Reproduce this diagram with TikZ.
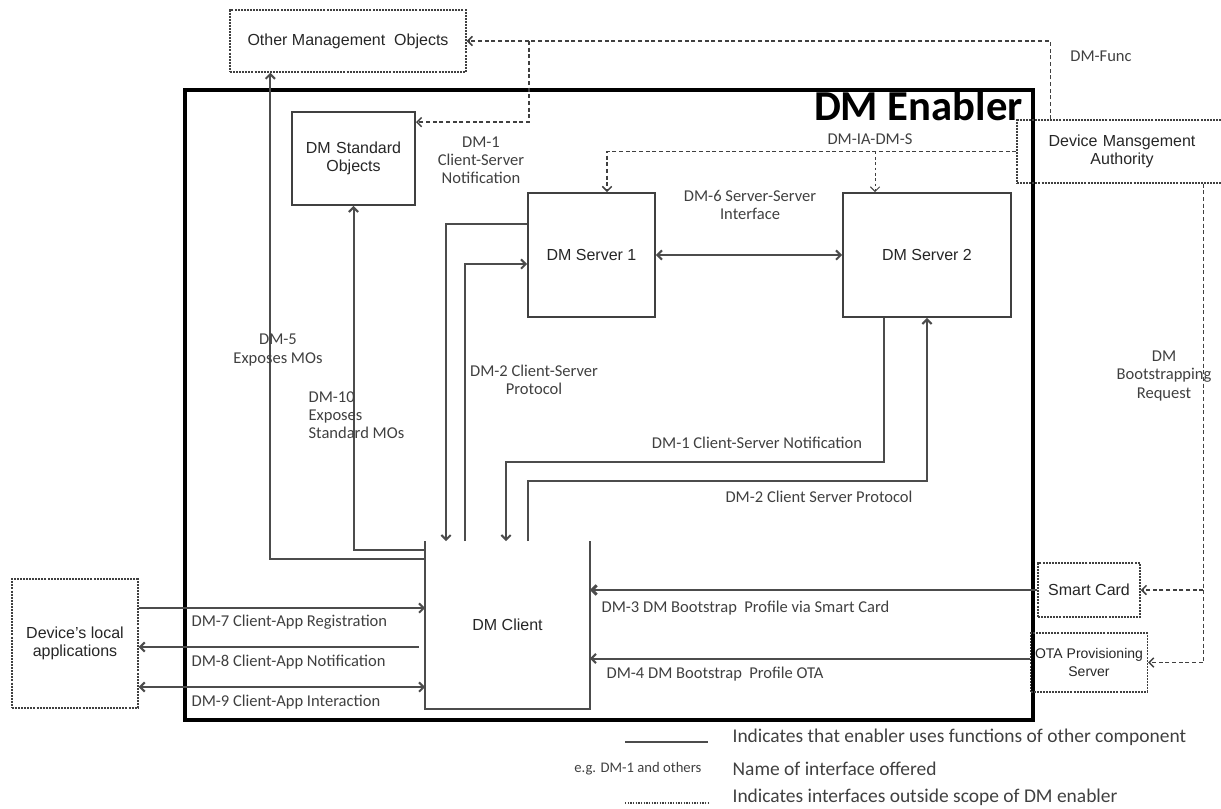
\documentclass[tikz,border=0pt]{standalone}
\usepackage{fontspec}
\setmainfont{Liberation Sans}
\newfontfamily\labfont{Carlito}
\usetikzlibrary{positioning,calc,arrows.meta}

\begin{document}
\begin{tikzpicture}[x=0.75pt,y=-0.75pt,>={Straight Barb[length=3.5pt,width=7pt]},
  box/.style={draw=black!75,line width=1.4pt,rectangle,align=center,text=black!85,font=\fontsize{12}{14}\selectfont},
  extbox/.style={box,line width=1.1pt,densely dashed,dash pattern=on 1.5pt off 0.8pt},
  lbl/.style={font=\labfont\fontsize{12.4}{13.6}\selectfont,text=black!75,align=center,inner sep=1pt},
  conn/.style={draw=black!70,line width=1.5pt},
  ext/.style={draw=black!75,line width=1.1pt,dashed,dash pattern=on 3pt off 2pt}]
\useasboundingbox (0,0) rectangle (1221,808);

% enabler frame
\node[draw,line width=3pt,minimum width=848*0.75pt,minimum height=630*0.75pt] (enabler) at (609,405) {};
\node[anchor=base east,font=\labfont\bfseries\fontsize{32}{34}\selectfont,inner sep=0pt] (title) at (1023,120) {DM Enabler};

% components
\node[extbox,minimum width=236*0.75pt,minimum height=62*0.75pt] (omo) at (348,41) {Other Management\ \ Objects};
\node[box,minimum width=123*0.75pt,minimum height=93*0.75pt,text width=80pt] (dmso) at (353.5,158.5) {DM Standard\\ Objects};
\node[box,minimum width=127*0.75pt,minimum height=124*0.75pt] (dms1) at (591.5,255) {DM Server 1};
\node[box,minimum width=168*0.75pt,minimum height=124*0.75pt] (dms2) at (927,255) {DM Server 2};
\node[extbox,minimum width=210*0.75pt,minimum height=63*0.75pt,text width=150pt] (dma) at (1122,151.5) {Device Mansgement\\ Authority};
\node[extbox,minimum width=102*0.75pt,minimum height=54*0.75pt] (smart) at (1089,590) {Smart Card};
\node[extbox,minimum width=102*0.75pt,minimum height=59*0.75pt,font=\fontsize{10.5}{13}\selectfont] (ota) at (1089,662.5) {OTA Provisioning\\ Server};
\node[extbox,minimum width=126*0.75pt,minimum height=129*0.75pt] (apps) at (75,643.5) {Device's local\\ applications};
\node[box,draw=none,minimum width=163*0.75pt,minimum height=166*0.75pt] (client) at (507.5,625) {DM Client};
\draw[conn,line width=1.4pt] (client.north west) -- (client.south west) -- (client.south east) -- (client.north east);

% outside scope
\draw[ext,->] ($(dma.north west)+(34,0)$) |- (omo.east);
\coordinate (fj) at (529,41);
\draw[ext,->] (fj) |- ($(dmso.north east)+(0,11)$);
\node[lbl] (lfunc) at (1101,56) {DM-Func};
\draw[ext,->] (dma.west) -| ($(dms1.north)+(15.5,0)$);
\coordinate (ij) at (875,151.5);
\draw[ext,->,dash pattern=on 2pt off 2pt,line width=0.7pt] (ij) -- ($(dms2.north)+(-52,0)$);
\node[lbl] (lia) at (870,139) {DM-IA-DM-S};
\draw[ext,->] ($(dma.south east)+(-24,0)$) |- (smart.east);
\draw[ext,->] ($(dma.south east)+(-24,0)$) |- (ota.east);
\node[lbl] (lboot) at (1164,376) {DM\\ Bootstrapping\\ Request};

% client - server
\draw[conn,->] ($(dms1.north west)+(0,32)$) -| ($(client.north west)+(21,0)$);
\node[lbl] (l1) at (481,160) {DM-1\\ Client-Server\\ Notification};
\draw[conn,->] ($(client.north west)+(40,0)$) |- ($(dms1.west)+(0,9)$);
\node[lbl] (l2) at (534,380) {DM-2 Client-Server\\ Protocol};
\draw[conn,<->] (dms1.east) -- (dms2.west);
\node[lbl] (l6) at (750,205) {DM-6 Server-Server\\ Interface};
\draw[conn,->] ($(dms2.south west)+(42,0)$) -- ++(0,144) -| ($(client.north west)+(81,0)$);
\node[lbl] (l1b) at (757,443) {DM-1 Client-Server Notification};
\draw[conn,->] ($(client.north west)+(103,0)$) -- ++(0,-60) -| (dms2.south);
\node[lbl] (l2b) at (819,497) {DM-2 Client Server Protocol};

% exposed objects
\draw[conn,->] ($(client.north west)+(0,18)$) -| ($(omo.south west)+(41,0)$);
\node[lbl] (l5) at (278,350) {DM-5\\ Exposes MOs};
\draw[conn,->] ($(client.north west)+(0,9)$) -| (dmso.south);
\node[lbl,anchor=west,align=left] (l10) at (307,415) {DM-10\\ Exposes\\ Standard MOs};

% local applications
\coordinate (r7) at ($(apps.east)+(0,-35.5)$);
\coordinate (r8) at ($(apps.east)+(0,3.5)$);
\coordinate (r9) at ($(apps.east)+(0,43.5)$);
\draw[conn,->] (r7) -- (r7 -| client.west);
\draw[conn,<-] (r8) -- ($(r8 -| client.west)+(-6,0)$);
\draw[conn,<->] (r9) -- (r9 -| client.west);
\node[lbl,anchor=west] (l7) at (190,622) {DM-7 Client-App Registration};
\node[lbl,anchor=west] (l8) at (190,662) {DM-8 Client-App Notification};
\node[lbl,anchor=west] (l9) at (190,702) {DM-9 Client-App Interaction};

% bootstrap
\draw[conn,->,line width=2.2pt] (smart.west) -- (smart.west -| client.east);
\node[lbl,anchor=west] (l3) at (600,608) {DM-3 DM Bootstrap\ \ Profile via Smart Card};
\draw[conn,->] ($(ota.west)+(0,-4)$) -- ($(ota.west -| client.east)+(0,-4)$);
\node[lbl,anchor=west] (l4) at (605,674) {DM-4 DM Bootstrap\ \ Profile OTA};

% legend
\node[lbl,anchor=west,font=\labfont\fontsize{14.6}{16}\selectfont] (leg1) at (731,737) {Indicates that enabler uses functions of other component};
\node[lbl,anchor=west,font=\labfont\fontsize{14.6}{16}\selectfont] (leg2) at (731,769) {Name of interface offered};
\node[lbl,anchor=west,font=\labfont\fontsize{14.6}{16}\selectfont] (leg3) at (731,797) {Indicates interfaces outside scope of DM enabler};
\node[lbl,anchor=east,font=\labfont\fontsize{11}{12}\selectfont] (leg2k) at ($(leg2.west)+(-28,0)$) {e.g. DM-1 and others};
\draw[conn] ($(leg1.west)+(-106,5)$) -- ($(leg1.west)+(-23,5)$);
\draw[ext,dash pattern=on 1pt off 1pt] ($(leg3.west)+(-106,6)$) -- ($(leg3.west)+(-23,6)$);
\end{tikzpicture}
\end{document}
